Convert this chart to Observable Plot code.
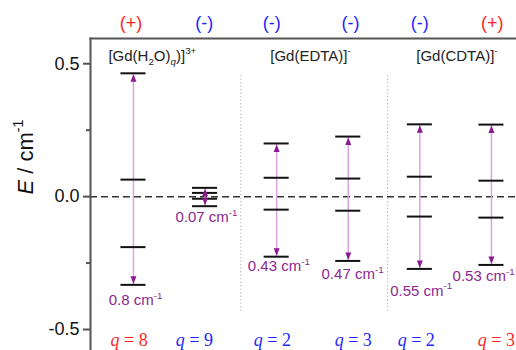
<!DOCTYPE html>
<html><head><meta charset="utf-8">
<script src="https://cdn.jsdelivr.net/npm/d3@7"></script>
<script src="https://cdn.jsdelivr.net/npm/@observablehq/plot@0.6"></script>
<style>body{margin:0;background:#fff}</style>
</head><body><div id="chart"></div>
<script>
// ---- data ----
const columns = [0, 1, 2, 3, 4, 5];
const levels = [
  [0.464, 0.064, -0.190, -0.332],
  [0.033, 0.014, -0.008, -0.036],
  [0.200, 0.071, -0.049, -0.226],
  [0.226, 0.068, -0.053, -0.242],
  [0.272, 0.075, -0.075, -0.272],
  [0.271, 0.060, -0.079, -0.257]
];
const splittings = ["0.8", "0.07", "0.43", "0.47", "0.55", "0.53"];
const splitLabelX = [0.03, 1.02, 2.03, 3.06, 4.02, 4.89];
const splitLabelE = [-0.391, -0.079, -0.263, -0.293, -0.355, -0.301];
const qValues = [8, 9, 2, 3, 2, 3];
const qLabelX = [-0.06, 0.85, 1.94, 3.07, 3.95, 5.07];
const qLabelE = -0.542;
const signs = ["(+)", "(-)", "(-)", "(-)", "(-)", "(+)"];
const signX = [-0.035, 0.99, 1.93, 3.03, 4.0, 5.01];
const signE = 0.653;
const groupTitles = ["[Gd(H|_2|O)|_~q|)]|^3+", "[Gd(EDTA)]|^-", "[Gd(CDTA)]|^-"];
const groupTitleX = [-0.35, 1.91, 3.95];
const groupTitleE = 0.53;
const separatorsX = [1.5, 3.55];
const separatorTop = 0.455, separatorBottom = -0.433;
const yTicks = [-0.5, 0, 0.5];
const yMinorTicks = [-0.25, 0.25];

const red = "#ff1f1f", blue = "#1f1fff", purple = "#8e278f";
const signColor = s => s === "(+)" ? red : blue;

const levelRows = levels.flatMap((ls, i) => ls.map(E => ({col: columns[i], E})));
const arrows = levels.map((ls, i) => ({col: columns[i], top: d3.max(ls), bottom: d3.min(ls)}));
const splitRows = splittings.map((s, i) => ({x: splitLabelX[i], E: splitLabelE[i], t: s + " cm|^-1"}));
const qRows = qValues.map((q, i) => ({x: qLabelX[i], t: "~q| = " + q, c: signColor(signs[i])}));
const signRows = signs.map((s, i) => ({x: signX[i], t: s, c: signColor(s)}));
const titleRows = groupTitles.map((t, i) => ({x: groupTitleX[i], t}));

const upHead = {draw(ctx) { ctx.moveTo(0, 1); ctx.lineTo(3, 8.5); ctx.lineTo(-3, 8.5); ctx.closePath(); }};
const downHead = {draw(ctx) { ctx.moveTo(0, -1); ctx.lineTo(3, -8.5); ctx.lineTo(-3, -8.5); ctx.closePath(); }};

const chart = Plot.plot({
  width: 516, height: 350,
  marginLeft: 90, marginRight: 0, marginTop: 38, marginBottom: 0,
  style: {fontFamily: "'Liberation Sans', Arial, sans-serif", fontSize: "15px", background: "#fff", overflow: "visible"},
  x: {domain: [-0.6, 5.35], axis: null},
  y: {domain: [-0.579, 0.595], axis: null, label: null},
  marks: [
    Plot.ruleX(separatorsX, {y1: separatorTop, y2: separatorBottom, stroke: "#9a9a9a", strokeWidth: 1, strokeDasharray: "1,2.5"}),
    Plot.ruleY([0], {stroke: "#333", strokeWidth: 1.5, strokeDasharray: "7,4"}),
    Plot.ruleX(arrows, {x: "col", y1: "bottom", y2: "top", stroke: "#dca3e0", strokeWidth: 1.5}),
    Plot.ruleY(levelRows, {y: "E", x1: d => d.col - 0.175, x2: d => d.col + 0.175, stroke: "#111", strokeWidth: 2}),
    Plot.dot(arrows, {x: "col", y: "top", symbol: upHead, fill: "#8a1a8e", stroke: "none"}),
    Plot.dot(arrows, {x: "col", y: "bottom", symbol: downHead, fill: "#8a1a8e", stroke: "none"}),
    Plot.text(splitRows, {x: "x", y: "E", text: "t", fill: purple, fontSize: 15}),
    Plot.text(titleRows, {x: "x", y: groupTitleE, text: "t", textAnchor: "start", fill: "#222", fontSize: 15}),
    Plot.text(signRows, {x: "x", y: signE, text: "t", fill: "c", fontSize: 18, clip: false}),
    Plot.text(qRows, {x: "x", y: qLabelE, text: "t", fill: "c", fontSize: 18, fontFamily: "'Liberation Serif', 'Times New Roman', serif"}),
    Plot.axisY({ticks: yTicks, tickFormat: d => d.toFixed(1), tickSize: 7, tickPadding: 4, fontSize: 18, stroke: "#555", strokeWidth: 2, fill: "#111", label: null}),
    Plot.axisY({ticks: yMinorTicks, tickFormat: () => "", tickSize: 4, stroke: "#555", strokeWidth: 2, label: null}),
    Plot.frame({anchor: "top", stroke: "#555", strokeWidth: 2}),
    Plot.frame({anchor: "left", stroke: "#555", strokeWidth: 2}),
    Plot.text(["~E| / cm|^-1"], {frameAnchor: "left", dx: -65, rotate: -90, text: d => d, fontSize: 22, fill: "#111"})
  ]
});
document.getElementById("chart").appendChild(chart);

// rich text: segments separated by "|", prefixes _ (sub), ^ (sup), ~ (italic)
const NS = "http://www.w3.org/2000/svg";
chart.querySelectorAll("text").forEach(t => {
  const s = t.textContent;
  if (!s.includes("|")) return;
  const fs = parseFloat(getComputedStyle(t).fontSize) || 15;
  t.textContent = "";
  let shift = 0;
  for (const seg of s.split("|")) {
    const m = seg.match(/^([_^~]*)([\s\S]*)$/);
    const f = m[1], str = m[2];
    const ts = document.createElementNS(NS, "tspan");
    const target = f.includes("^") ? -0.42 * fs : f.includes("_") ? 0.28 * fs : 0;
    if (target !== shift) { ts.setAttribute("dy", target - shift); shift = target; }
    if (f.includes("^") || f.includes("_")) ts.setAttribute("font-size", 0.65 * fs);
    if (f.includes("~")) ts.setAttribute("font-style", "italic");
    ts.textContent = str;
    t.appendChild(ts);
  }
});
</script></body></html>
